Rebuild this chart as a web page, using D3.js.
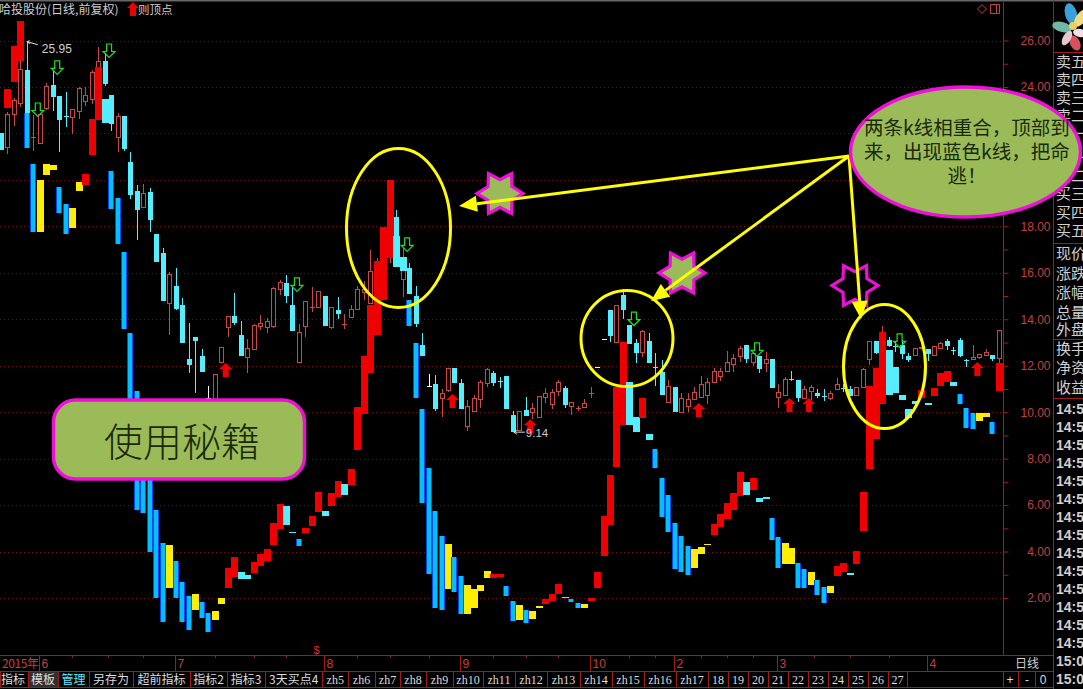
<!DOCTYPE html>
<html><head><meta charset="utf-8">
<script src="https://cdn.jsdelivr.net/npm/d3@7/dist/d3.min.js"></script>
<style>html,body{margin:0;padding:0;background:#000;overflow:hidden}svg{display:block}</style>
</head><body><svg id="c" width="1083" height="689"></svg>
<script>
// ---- price k-line (thin candles) ----
const upKind=("crrrcrrrcc"+"crrrrrccrc"+"ccrcccrccc"+"ccwrrrccrr"+"rrrrccrrrr"+"crcrrrrrrr"+"rcrcccwcrr"+"ccrrrrcccc"+"rcrrrrrcrr"+"rrwwcrcccr"+"cccrcrrrrr"+"rrrrrcrcrc"+"rrccrrccrr"+"ccrrrcrccc"+"crrcrrcccc"+"rrrcr").split("");
const upHigh=[22.02,22.92,23.53,25.12,25.95,22.79,22.88,24.17,24.73,23.61,
23.78,23.05,24.00,24.00,24.73,25.72,25.46,23.65,22.88,22.75,
21.20,19.78,19.82,19.65,17.67,17.07,16.03,16.21,14.91,13.84,
13.23,12.72,11.12,11.64,12.81,14.14,15.13,13.93,13.15,13.80,
14.18,14.05,15.39,15.69,15.90,15.39,13.80,14.79,15.39,15.22,
15.00,14.53,14.96,14.23,14.61,15.43,15.65,16.98,16.63,17.41,
18.49,18.70,17.07,16.42,15.43,13.41,11.64,11.60,11.00,11.90,
11.90,11.42,10.52,10.73,11.38,11.90,11.77,11.51,11.55,10.05,
10.05,10.65,10.39,10.70,11.04,11.00,11.38,11.12,10.44,10.26,
10.57,11.08,11.94,13.15,14.40,14.61,15.30,13.75,13.15,13.54,
13.41,12.55,12.25,11.38,11.08,10.82,10.82,11.08,11.55,11.47,
11.90,11.90,12.63,12.50,12.85,12.89,12.55,12.42,12.59,12.29,
11.21,11.51,11.77,11.38,11.12,11.17,11.00,11.00,10.91,11.47,
11.21,11.12,11.08,11.90,13.07,13.07,13.71,13.23,13.07,13.11,
12.55,12.76,12.81,12.72,12.85,13.02,13.15,12.81,13.19,12.29,
12.89,12.50,12.72,12.46,13.54];
const upTop=[22.02,22.84,23.44,24.77,24.73,21.85,22.84,24.04,24.08,23.61,
22.75,23.05,23.95,23.65,24.64,25.12,25.12,23.65,22.75,22.75,
20.77,19.52,19.43,19.47,17.67,16.85,15.95,15.43,14.61,12.29,
13.23,12.42,10.61,11.64,12.81,14.14,14.14,13.32,12.76,13.75,
13.84,13.93,15.35,15.60,15.56,14.61,13.45,14.79,14.53,15.22,
15.00,14.53,14.40,13.80,14.44,15.30,15.30,16.07,16.33,17.19,
17.84,18.40,16.68,16.20,15.00,12.89,11.12,11.21,10.82,11.90,
11.90,11.25,10.26,10.61,11.30,11.86,11.68,11.34,11.55,9.87,
10.05,10.09,10.18,10.70,10.82,10.87,11.30,11.04,10.44,10.18,
10.39,10.82,11.94,13.15,14.40,14.61,15.04,13.75,12.98,13.50,
13.07,11.94,11.73,11.12,11.08,10.61,10.57,10.87,11.21,11.30,
11.77,11.77,12.16,12.33,12.76,12.89,12.55,12.42,12.29,12.29,
10.87,11.43,11.43,11.38,11.00,11.08,10.82,10.70,10.82,11.21,
11.04,11.00,11.08,11.86,13.07,13.07,13.45,13.11,12.85,12.89,
12.42,12.76,12.81,12.72,12.85,12.98,13.07,12.68,13.11,12.25,
12.38,12.50,12.59,12.46,13.54];
const upBottom=[21.29,21.42,22.84,23.31,22.88,21.85,21.59,23.09,23.57,22.58,
22.75,22.71,22.97,23.40,23.48,24.82,24.13,22.41,21.85,21.33,
19.35,18.70,18.83,18.27,16.46,14.79,14.70,14.44,12.98,12.03,
13.07,11.73,10.61,10.09,12.16,13.67,13.84,12.42,12.38,12.72,
13.71,13.67,13.71,15.30,15.00,13.50,12.16,13.71,14.53,14.53,
13.71,13.67,14.23,13.80,14.10,14.44,15.17,14.70,15.26,16.46,
16.76,17.58,15.73,15.08,13.80,12.42,11.12,10.13,10.61,10.95,
11.25,10.13,9.40,10.05,10.57,11.25,11.25,11.34,10.13,9.14,
9.23,9.83,10.00,9.79,10.65,10.35,10.91,10.31,10.26,10.18,
10.22,10.82,11.94,13.15,13.28,13.02,14.40,12.94,12.55,12.59,
12.12,11.94,10.73,10.44,10.00,10.00,10.26,10.57,10.65,10.73,
11.30,11.55,11.77,12.07,12.42,12.29,12.16,11.86,12.12,11.04,
10.65,10.73,11.43,10.61,10.61,10.91,10.70,10.70,10.61,11.00,
11.04,10.70,10.73,11.08,12.29,12.55,13.11,12.85,12.85,12.50,
12.25,12.46,12.76,12.50,12.46,12.76,12.85,12.68,12.42,12.25,
12.29,12.38,12.46,12.29,12.33];
const upLow=[21.29,21.12,22.32,23.14,22.88,21.25,21.55,23.01,22.97,21.20,
22.28,21.98,22.62,23.18,23.27,22.58,24.04,22.11,21.20,21.25,
19.18,17.41,18.83,17.75,16.46,14.79,13.32,14.40,12.98,11.68,
10.82,11.73,10.52,10.09,12.16,13.23,13.75,12.42,11.68,12.72,
13.54,13.41,13.62,15.04,14.70,13.50,12.16,13.23,14.31,14.53,
13.71,13.58,14.01,13.58,14.10,14.44,14.83,14.70,14.83,16.12,
16.42,17.58,14.96,15.08,13.67,12.42,11.12,10.05,9.79,10.87,
11.25,10.13,9.19,10.05,10.18,11.08,11.12,11.04,10.13,9.14,
9.23,9.83,9.70,9.79,10.39,10.13,10.70,10.18,9.87,10.05,
10.22,10.61,11.94,13.15,13.02,13.02,14.01,12.94,12.12,12.38,
12.12,11.12,10.73,10.39,10.00,10.00,10.00,10.57,10.65,10.35,
11.30,11.34,11.77,11.73,12.16,12.12,11.98,11.68,11.73,11.04,
10.18,10.73,11.34,10.44,10.61,10.52,10.61,10.48,10.52,11.00,
10.87,10.70,10.73,11.08,12.03,12.50,13.11,12.81,12.59,12.29,
12.16,12.46,12.76,12.20,12.46,12.76,12.68,12.46,12.38,11.94,
12.29,12.29,12.46,12.20,12.12];
// ---- overlaid indicator k-line (thick bars) ----
const lowKind=("-rrrbbyyyb"+"byyrrrcbbb"+"bbbbbbybbb"+"ybbyyrrccr"+"rrrrccbrrr"+"crrcrrrrrr"+"rccbbbbbby"+"bbyyyyrrbb"+"ybyyrrrcbb"+"yrrrrrrccr"+"cbbbbbbyyy"+"rrrrrcrccb"+"byybbybbyr"+"rcrrrrrccc"+"ccrcrrrcbb"+"byybr").split("");
const lowTop=[null,23.91,25.76,26.84,22.88,20.68,20.00,20.68,20.64,19.69,
18.96,18.79,19.91,20.25,22.62,24.86,23.48,20.38,19.22,16.89,
13.41,10.91,9.23,7.94,5.79,4.37,4.28,3.59,2.68,2.08,
2.17,1.83,1.35,1.44,2.00,3.29,3.76,3.12,2.99,3.55,
3.89,4.11,5.23,6.05,5.96,4.84,4.54,5.01,5.53,6.56,
5.74,6.52,7.04,6.91,7.55,10.22,12.42,14.61,16.50,17.97,
20.00,17.58,16.68,14.83,12.98,10.13,7.59,5.74,4.67,4.32,
3.76,2.94,2.56,2.39,2.56,3.16,3.03,3.03,2.51,1.87,
1.70,1.48,1.44,1.65,1.96,2.17,2.60,2.04,1.96,1.78,
1.74,2.00,3.12,5.53,7.29,11.08,13.02,11.30,9.79,10.61,
9.06,8.41,7.17,6.43,5.23,4.67,4.24,4.11,4.19,4.32,
5.18,5.61,6.09,6.52,7.42,6.99,7.17,6.30,6.35,5.44,
4.63,4.37,4.15,3.50,3.25,3.12,2.77,2.47,2.51,3.38,
3.50,3.07,4.02,6.56,11.12,11.90,13.45,12.68,11.94,10.73,
10.13,10.48,10.95,10.39,11.04,11.68,11.77,11.30,10.78,10.18,
9.96,9.96,9.96,9.57,12.12];
const lowBottom=[null,23.09,24.21,25.12,21.37,17.75,17.75,20.21,20.43,18.57,
17.67,17.93,19.52,19.78,21.07,22.58,22.45,18.75,17.24,13.58,
7.51,5.79,5.66,3.98,2.00,0.97,2.43,2.00,0.97,0.62,
1.48,1.14,0.53,1.05,1.74,2.43,2.90,2.82,2.82,3.07,
3.38,3.59,4.28,4.97,5.14,4.80,4.24,4.80,5.10,5.70,
5.53,5.96,6.35,6.43,6.86,8.37,9.92,11.69,13.32,14.83,
16.63,16.25,16.07,13.71,10.61,6.09,3.03,1.57,1.48,2.39,
2.26,1.31,1.31,1.57,2.30,2.86,2.86,2.90,2.08,1.01,
1.05,0.92,1.09,1.57,1.74,1.87,2.17,2.00,1.83,1.57,
1.57,1.87,2.43,3.81,5.14,7.64,9.44,9.44,9.14,9.75,
8.80,7.59,5.49,4.84,3.25,3.12,2.99,3.29,3.89,4.28,
4.71,5.05,5.40,5.79,6.39,6.43,6.65,6.13,6.26,4.50,
3.29,3.46,3.46,2.43,2.43,2.56,2.13,1.78,2.21,2.94,
3.12,2.99,3.46,4.88,7.55,8.84,10.35,10.73,10.82,10.52,
9.75,10.35,10.61,10.31,10.70,11.12,11.30,11.12,10.35,9.32,
9.27,9.62,9.79,9.06,10.91];
// ---- signals ----
const buyIndex=[35,70,82,108,122,125,151];
const buyPrice=[12.12,10.78,9.70,10.39,10.61,10.61,12.16];
const sellIndex=[6,9,17,46,63,98,117,139];
const sellPrice=[23.31,25.12,25.85,15.78,17.50,14.31,12.98,13.37];
// ---- axes / labels ----
const priceMinor=[3,5,7,9,11,13,15,17,19,21,23,25,20,22];
const priceTicks=[2,4,6,8,10,12,14,16,18,20,22,24,26];
const priceLabels=[2,4,6,8,10,12,14,16,18,24,26];
const monthIndex=[6,27,50,71,91,104,120,143];
const monthLabels=["6","7","8","9","10","2","3","4"];
const dayTicks=[11,16.5,22,33,39,44,55,60,66,76,81,86,97,101,108,112,116,125.5,131,137];
const tabLabels=["指标","模板","管理","另存为","超前指标","指标2","指标3","3天买点4","zh5","zh6","zh7","zh8","zh9","zh10","zh11","zh12","zh13","zh14","zh15","zh16","zh17","18","19","20","21","22","23","24","25","26","27"];
const tabEdges=[0,28,58,89,133,190,227,265,322.5,348,375,400,426,453,483,515,547,580,612,644,676,708,728,748,768,788,808,828,848,868,888,907];
const quoteLabels=["卖五","卖四","卖三","卖二","卖一","买一","买二","买三","买四","买五"];
const quoteRows=[61,79,97,115,133,157,175,193,212,230];
const infoLabels=["现价","涨跌","涨幅","总量","外盘","换手","净资","收益"];
const infoRows=[253,273,292,312,329,348,367,387];
const timeLabels=["14:5","14:5","14:5","14:5","14:5","14:5","14:5","14:5","14:5","14:5","14:5","14:5","14:5","14:5","15:0","15:0"];

const svg=d3.select("#c");
const W=1083,H=689,axisX=1003,panelX=1053.5;
const AX="#a01c1c",LAB="#c24040",GREY="#cfcfcf",SANS="'Liberation Sans',Arial,sans-serif",SERIF="'Liberation Serif',serif",CJK="'Noto Sans CJK SC','Noto Sans',sans-serif";
const x=d3.scaleLinear().domain([0,154]).range([0.9,998.8]);
const y=d3.scaleLinear().domain([2,26]).range([598,40.5]);
const I=d3.range(upKind.length);
svg.append("rect").attr("width",W).attr("height",H).attr("fill","#000");
svg.append("rect").attr("width",W).attr("height",1.5).attr("fill","#666");

// grid
svg.append("g").selectAll("line").data(priceTicks).join("line")
 .attr("x1",0).attr("x2",axisX).attr("y1",d=>Math.round(y(d))+.5).attr("y2",d=>Math.round(y(d))+.5)
 .attr("stroke","#6a1212").attr("stroke-dasharray","1 3");

// upper candles
const UP={r:"#c84848",c:"#55eeff",w:"#ffffff"};
const gu=svg.append("g").attr("shape-rendering","crispEdges");
gu.selectAll("line").data(I).join("line")
 .attr("x1",i=>Math.round(x(i))+.5).attr("x2",i=>Math.round(x(i))+.5)
 .attr("y1",i=>y(upHigh[i])).attr("y2",i=>y(upLow[i])).attr("stroke",i=>UP[upKind[i]]);
gu.selectAll("rect").data(I).join("rect")
 .attr("x",i=>Math.round(x(i))-2+(upKind[i]==="r"?.5:0))
 .attr("width",i=>upKind[i]==="r"?4:5)
 .attr("y",i=>Math.round(y(upTop[i]))+(upKind[i]==="r"?.5:0))
 .attr("height",i=>Math.max(upKind[i]==="r"?0.01:1,Math.round(y(upBottom[i])-y(upTop[i]))))
 .attr("fill",i=>upKind[i]==="r"?"#000":UP[upKind[i]])
 .attr("stroke",i=>upKind[i]==="r"?UP.r:"none");

// lower bars
const LOW={r:"#ee0000",c:"#55eeff",y:"#ffee00",b:"#0048f0"};
const J=I.filter(i=>lowKind[i]!=="-");
const gl=svg.append("g").attr("shape-rendering","crispEdges");
gl.selectAll("rect.o").data(J).join("rect").attr("class","o")
 .attr("x",i=>Math.round(x(i))-3)
 .attr("width",i=>lowKind[i]==="b"?6:7)
 .attr("y",i=>Math.round(y(lowTop[i]))).attr("height",i=>Math.max(1,Math.round(y(lowBottom[i])-y(lowTop[i]))))
 .attr("fill",i=>LOW[lowKind[i]]);
gl.selectAll("rect.i").data(J.filter(i=>lowKind[i]==="b")).join("rect").attr("class","i")
 .attr("x",i=>Math.round(x(i))-2).attr("width",4)
 .attr("y",i=>Math.round(y(lowTop[i]))).attr("height",i=>Math.max(1,Math.round(y(lowBottom[i])-y(lowTop[i]))))
 .attr("fill","#00c0ff");

// signals
svg.append("g").selectAll("path").data(buyIndex).join("path")
 .attr("transform",(d,k)=>`translate(${x(d)-2},${y(buyPrice[k])})`)
 .attr("d","M0,0L6.5,6H3V14H-3V6H-6.5Z").attr("fill","#ee0000");
svg.append("g").selectAll("path").data(sellIndex).join("path")
 .attr("transform",(d,k)=>`translate(${x(d)-2},${y(sellPrice[k])})`)
 .attr("d","M-2.5,0H2.5V7.5H6L0,13.5L-6,7.5H-2.5Z").attr("fill","none").attr("stroke","#22dd22").attr("stroke-width",1.2);

// high / low marks
const hiI=4,loI=79;
svg.append("path").attr("d",`M${x(hiI)},${y(upHigh[hiI])}l11,3m-11,-3l3,-1m-3,1l3,2`).attr("stroke","#ddd").attr("fill","none");
svg.append("text").attr("x",x(hiI)+15).attr("y",y(upHigh[hiI])+11).text(upHigh[hiI].toFixed(2)).attr("fill",GREY).attr("font-family",SANS).attr("font-size",12);
svg.append("path").attr("d",`M${x(loI)+1},${y(upLow[loI])}h11m-11,0l3,-2m-3,2l3,2`).attr("stroke","#ddd").attr("fill","none");
svg.append("text").attr("x",x(loI)+13).attr("y",y(upLow[loI])+5).text(upLow[loI].toFixed(2)).attr("fill",GREY).attr("font-family",SANS).attr("font-size",11.5);

// right axis
const axis=d3.axisRight(y).tickValues(priceLabels).tickSize(5).tickFormat(d3.format(".2f"));
const ga=svg.append("g").attr("transform",`translate(${axisX+.5},0)`).call(axis);
ga.select(".domain").remove();
ga.selectAll("line").attr("stroke",AX);
ga.selectAll("text").attr("x",47).attr("text-anchor","end").attr("fill",LAB).attr("font-family",SANS).attr("font-size",12);
const gm=svg.append("g").attr("transform",`translate(${axisX+.5},0)`).call(d3.axisRight(y).tickValues(priceMinor).tickSize(5).tickFormat(""));
gm.select(".domain").remove(); gm.selectAll("line").attr("stroke",AX);

// frame
const rule=(x1,y1,x2,y2,c=AX)=>svg.append("line").attr("x1",x1).attr("y1",y1).attr("x2",x2).attr("y2",y2).attr("stroke",c);
rule(axisX+.5,2,axisX+.5,655.5); rule(panelX,0,panelX,H);
rule(0,655.5,panelX,655.5); rule(0,671.5,panelX,671.5); rule(0,687.5,panelX,687.5);
rule(panelX,52.5,W,52.5); rule(panelX,243.5,W,243.5); rule(panelX,339.5,W,339.5); rule(panelX,398.5,W,398.5);

// top-left title
svg.append("text").attr("x",-1).attr("y",14).text("哈投股份(日线,前复权)").attr("fill",GREY).attr("font-family",CJK).attr("font-size",12);
svg.append("path").attr("transform","translate(133,2)").attr("d","M0,0L6,6H3V14H-3V6H-6Z").attr("fill","#ee0000");
svg.append("text").attr("x",138).attr("y",14).text("则顶点").attr("fill",GREY).attr("font-family",CJK).attr("font-size",11.5);
svg.append("path").attr("d","M982,4.5l4.5,4.5l-4.5,4.5l-4.5,-4.5Z").attr("fill","none").attr("stroke",LAB);
svg.append("path").attr("d","M990.5,4.5h9v9h-9ZM996.5,4.5v9").attr("fill","none").attr("stroke",LAB);

// date row
const gd=svg.append("g");
gd.selectAll("line.mj").data(monthIndex).join("line").attr("class","mj")
 .attr("x1",d=>Math.round(x(d))-.5).attr("x2",d=>Math.round(x(d))-.5).attr("y1",655).attr("y2",671).attr("stroke",AX);
gd.selectAll("line.mn").data(dayTicks).join("line").attr("class","mn")
 .attr("x1",d=>Math.round(x(d))+.5).attr("x2",d=>Math.round(x(d))+.5).attr("y1",655).attr("y2",658).attr("stroke",AX);
gd.selectAll("text").data(monthLabels).join("text")
 .attr("x",(d,k)=>Math.round(x(monthIndex[k]))+1.5).attr("y",668).text(d=>d)
 .attr("fill",LAB).attr("font-family",SANS).attr("font-size",12);
svg.append("text").attr("x",2).attr("y",668).attr("textLength",37).text("2015年").attr("fill",LAB).attr("font-family",CJK).attr("font-size",12);
svg.append("text").attr("x",1015).attr("y",668).text("日线").attr("fill",GREY).attr("font-family",CJK).attr("font-size",12);
svg.append("text").attr("x",316.5).attr("y",654).attr("text-anchor","middle").text("$").attr("fill","#ee2222").attr("font-family",SANS).attr("font-size",11);

// tab row
svg.append("rect").attr("x",tabEdges[1]+.5).attr("y",672).attr("width",tabEdges[2]-tabEdges[1]).attr("height",15).attr("fill","#303030");
const gt=svg.append("g");
gt.selectAll("line").data(tabEdges.concat([axisX,1018,1035])).join("line")
 .attr("x1",d=>Math.floor(d)+.5).attr("x2",d=>Math.floor(d)+.5).attr("y1",672).attr("y2",687).attr("stroke",AX);
gt.selectAll("text").data(tabLabels).join("text")
 .attr("x",(d,k)=>(tabEdges[k]+tabEdges[k+1])/2+(k===0?-1:0)).attr("y",684).attr("text-anchor","middle").text(d=>d)
 .attr("fill",(d,k)=>k===2?"#55eeff":"#dddddd")
 .attr("font-family",d=>/^(zh|\d)/.test(d)&&!/[天]/.test(d)?SERIF:CJK)
 .attr("font-size",12);
gt.selectAll("text.ctl").data(["+","-","0"]).join("text").attr("class","ctl")
 .attr("x",(d,k)=>[1010,1027,1043][k]).attr("y",684).attr("text-anchor","middle").text(d=>d)
 .attr("fill","#dddddd").attr("font-family",SANS).attr("font-size",12);

// right panel
const gp=svg.append("g").attr("font-family",CJK).attr("fill",GREY).attr("font-size",15);
gp.selectAll("text.q").data(quoteLabels).join("text").attr("class","q").attr("x",1056).attr("y",(d,k)=>quoteRows[k]+6).text(d=>d);
gp.selectAll("text.n").data(infoLabels).join("text").attr("class","n").attr("x",1056).attr("y",(d,k)=>infoRows[k]+6).text(d=>d);
svg.append("g").selectAll("text").data(timeLabels).join("text")
 .attr("x",1056).attr("y",(d,k)=>409+18*k+5).text(d=>d).attr("fill",GREY)
 .attr("font-family",SANS).attr("font-weight","bold").attr("font-size",14);

// logo flower
const petals=[["#3aa0dc",1071,14,6,11,-15],["#6fb7a6",1062,27,10,5,15],["#f0dc80",1081,18,5,10,35],["#d94f5e",1075,43,5,8,-25],["#e8c8d0",1067,38,4,8,30],["#f4e0e0",1080,33,7,4,10]];
svg.append("g").selectAll("ellipse").data(petals).join("ellipse")
 .attr("cx",d=>d[1]).attr("cy",d=>d[2]).attr("rx",d=>d[3]).attr("ry",d=>d[4])
 .attr("transform",d=>`rotate(${d[5]} ${d[1]} ${d[2]})`).attr("fill",d=>d[0]);
svg.append("circle").attr("cx",1073).attr("cy",26).attr("r",4).attr("fill","#e8d060");

// ---- annotations ----
const YEL="#ffff00",MAG="#ee10d8",OLV="#9bbb59";
const ga2=svg.append("g");
[[398.5,228,52,79.5],[627,338.5,46,48],[884.5,366.5,41,62]].forEach(e=>
 ga2.append("ellipse").attr("cx",e[0]).attr("cy",e[1]).attr("rx",e[2]).attr("ry",e[3]).attr("fill","none").attr("stroke",YEL).attr("stroke-width",3));
const star=(cx,cy,fill)=>{const p=d3.range(12).map(k=>{const r=k%2?13.8:23,a=k*Math.PI/6;return [cx+r*Math.cos(a),cy+r*Math.sin(a)];});
 ga2.append("path").attr("d","M"+p.join("L")+"Z").attr("fill",fill).attr("stroke",MAG).attr("stroke-width",3.2).attr("stroke-linejoin","miter");};
star(500,193.5,OLV); star(682,273,OLV); star(855,285.5,"none");
const arrow=(tx,ty)=>{const x0=849,y0=156,a=Math.atan2(ty-y0,tx-x0),L=18,Wd=8,bx=tx-L*Math.cos(a),by=ty-L*Math.sin(a);
 ga2.append("line").attr("x1",x0).attr("y1",y0).attr("x2",bx).attr("y2",by).attr("stroke",YEL).attr("stroke-width",3);
 ga2.append("path").attr("d",`M${tx},${ty}L${bx-Wd*Math.sin(a)},${by+Wd*Math.cos(a)}L${bx+Wd*Math.sin(a)},${by-Wd*Math.cos(a)}Z`).attr("fill",YEL);};
arrow(459,206); arrow(651,301); arrow(861,319);
// callouts
ga2.append("ellipse").attr("cx",965.5).attr("cy",152).attr("rx",115).attr("ry",65).attr("fill",OLV).attr("stroke",MAG).attr("stroke-width",3.5);
const callout=["两条k线相重合，顶部到","来，出现蓝色k线，把命","逃！"];
ga2.selectAll("text.cl").data(callout).join("text").attr("class","cl")
 .attr("x",967).attr("y",(d,k)=>135+24*k).attr("text-anchor","middle").text(d=>d)
 .attr("fill","#1a2a08").attr("font-family",CJK).attr("font-size",19.5);
ga2.append("rect").attr("x",53.5).attr("y",400).attr("width",251).attr("height",79).attr("rx",22).attr("fill",OLV).attr("stroke",MAG).attr("stroke-width",3.5);
ga2.append("text").attr("x",182).attr("y",456).attr("text-anchor","middle").text("使用秘籍").attr("fill","#1a2a08").attr("font-family",CJK).attr("font-weight",300).attr("font-size",39);
</script></body></html>
